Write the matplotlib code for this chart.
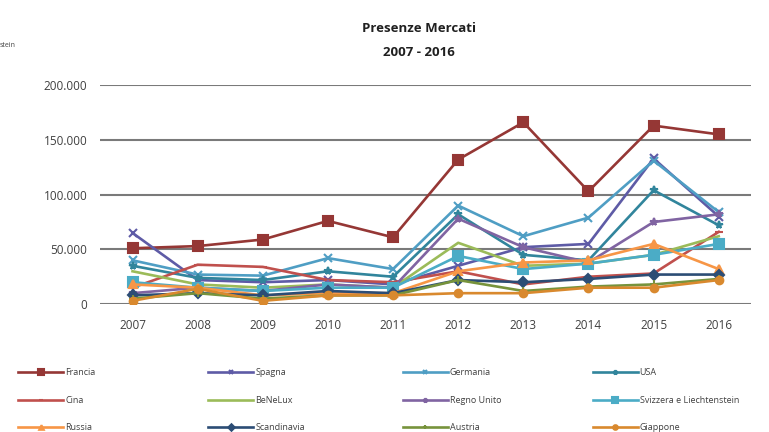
import numpy as np
import matplotlib.pyplot as plt
from matplotlib.ticker import FuncFormatter

anni = ['2007', '2008', '2009', '2010', '2011', '2012', '2013', '2014', '2015', '2016']

francia = [51000, 53000, 59000, 76000, 61000, 132000, 166000, 103000, 163000, 155000]
spagna = [65000, 22000, 20000, 22000, 18000, 35000, 52000, 55000, 133000, 80000]
germania = [40000, 27000, 26000, 42000, 32000, 90000, 62000, 79000, 131000, 84000]
usa = [35000, 24000, 22000, 30000, 25000, 82000, 45000, 40000, 104000, 72000]
cina = [15000, 36000, 34000, 22000, 20000, 30000, 18000, 25000, 28000, 66000]
benelux = [30000, 18000, 15000, 18000, 15000, 56000, 35000, 37000, 45000, 62000]
regno_unito = [10000, 15000, 12000, 18000, 15000, 78000, 52000, 38000, 75000, 82000]
svizzera = [20000, 15000, 12000, 15000, 15000, 44000, 32000, 37000, 45000, 55000]
russia = [18000, 15000, 8000, 10000, 10000, 30000, 38000, 40000, 55000, 32000]
scandinavia = [8000, 10000, 8000, 12000, 10000, 22000, 20000, 23000, 27000, 27000]
austria = [5000, 10000, 5000, 8000, 8000, 22000, 12000, 16000, 18000, 23000]
giappone = [3000, 14000, 3000, 8000, 8000, 10000, 10000, 15000, 15000, 22000]

serie = [
    ('Francia', francia, '#953735', 's'),
    ('Spagna', spagna, '#5E5BA6', 'x'),
    ('Germania', germania, '#4F9EC4', 'x'),
    ('USA', usa, '#31859C', '*'),
    ('Cina', cina, '#C0504D', '_'),
    ('BeNeLux', benelux, '#9BBB59', None),
    ('Regno Unito', regno_unito, '#8064A2', '*'),
    ('Svizzera e Liechtenstein', svizzera, '#4BACC6', 's'),
    ('Russia', russia, '#F79646', '^'),
    ('Scandinavia', scandinavia, '#2C4D75', 'D'),
    ('Austria', austria, '#77933C', '+'),
    ('Giappone', giappone, '#D9892E', 'o'),
]

plt.rcParams['font.family'] = ['Open Sans', 'DejaVu Sans']

fig = plt.figure(figsize=(7.69, 4.32), dpi=100)
ax = fig.add_axes([0.130, 0.296, 0.847, 0.507])
x = np.arange(len(anni))
lines = []
for nome, vals, col, mk in serie:
    ln, = ax.plot(x, vals, color=col, lw=1.9, marker=mk, ms=5.5 if mk != 's' else 6.5,
                  mew=1.5, label=nome)
    lines.append(ln)

ax.set_xlim(-0.5, 9.5)
ax.set_ylim(0, 200000)
ax.set_yticks([0, 50000, 100000, 150000, 200000])
ax.yaxis.set_major_formatter(FuncFormatter(lambda v, p: '0' if v == 0 else f'{int(v):,}'.replace(',', '.')))
ax.set_xticks(x)
ax.set_xticklabels(anni)
ax.tick_params(axis='both', length=0, labelsize=8.5, colors='#404040')
ax.tick_params(axis='x', pad=11)
ax.tick_params(axis='y', pad=9)
ax.grid(axis='y', color='#7a7a7a', lw=1.5)
ax.set_axisbelow(True)
for s in ax.spines.values():
    s.set_visible(False)

fig.text(0.545, 0.935, 'Presenze Mercati', ha='center', va='center', fontsize=9.5,
         fontweight='bold', color='#202020')
fig.text(0.545, 0.878, '2007 - 2016', ha='center', va='center', fontsize=9.5,
         fontweight='bold', color='#202020')
fig.text(0.0, 0.895, 'stein', ha='left', va='center', fontsize=5, color='#404040')

# legenda: 4 colonne da 3 righe
col_x = [0.018, 0.265, 0.518, 0.765]
for c in range(4):
    hh = [lines[r * 4 + c] for r in range(3)]
    fig.legend(hh, [h.get_label() for h in hh], loc='upper left',
               bbox_to_anchor=(col_x[c], 0.158), frameon=False, fontsize=6.5,
               handlelength=5.0, handletextpad=0.2, labelspacing=2.05,
               borderpad=0, markerscale=0.6, labelcolor='#404040')

fig.savefig('out.png', dpi=100)
